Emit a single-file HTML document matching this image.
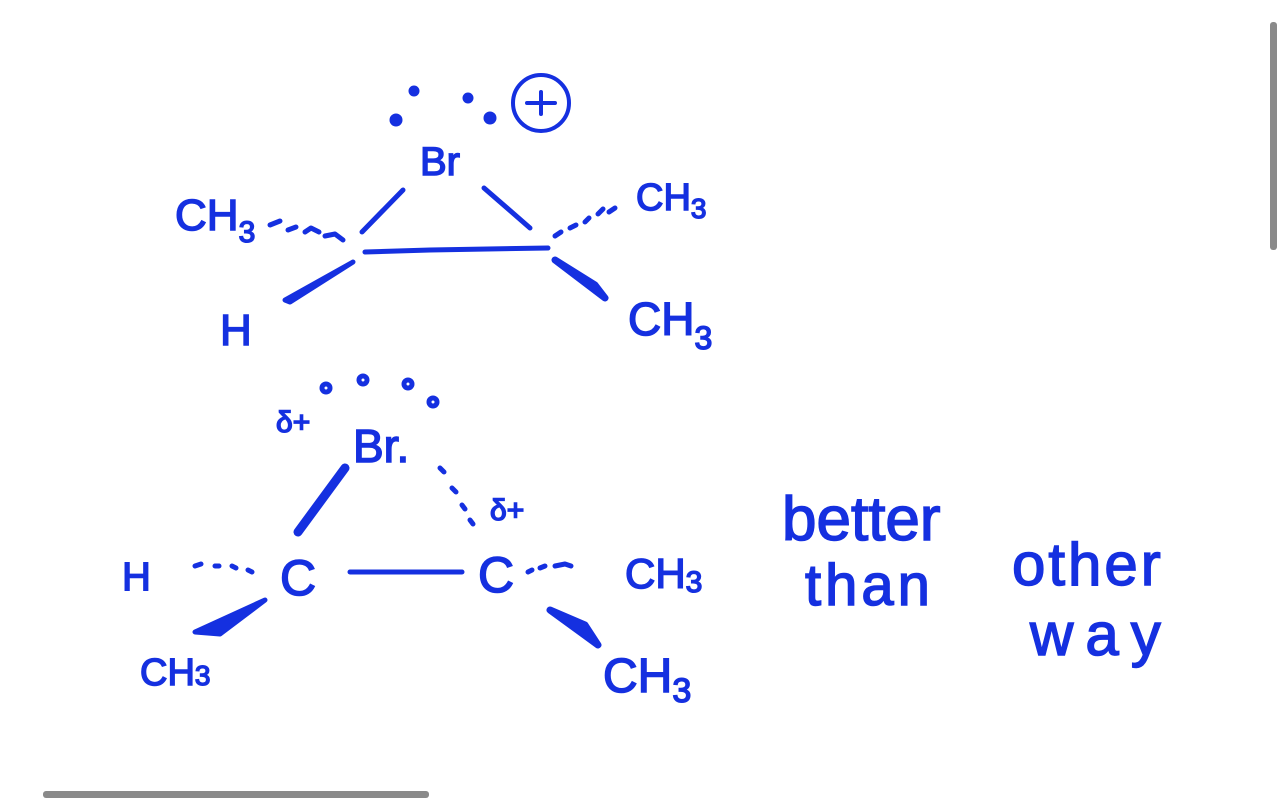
<!DOCTYPE html>
<html><head><meta charset="utf-8"><style>
html,body{margin:0;padding:0;background:#fff;width:1280px;height:800px;overflow:hidden}
svg{display:block}
text{font-family:"Liberation Sans",sans-serif;fill:#1530e0;stroke:#1530e0;stroke-width:1.5}
</style></head><body>
<svg width="1280" height="800" viewBox="0 0 1280 800">
<g stroke="#1530e0" stroke-width="5" fill="none" stroke-linecap="round" stroke-linejoin="round">
<circle cx="541" cy="103" r="28" stroke-width="4"/>
<path d="M527 103h28M541 92v22" stroke-width="4"/>
<path d="M403 190 L362 232"/>
<path d="M484 188 L530 228"/>
<path d="M365 252 L430 250 L548 248"/>
<path d="M270 225 l10-4 M288 230 l8-3 M305 232 l6-4 l8 4 M325 236 l10 -2 l8 6"/>
<path d="M555 236 l6-4 M570 228 l6-3 M585 222 l4-4 M598 214 l5-5 M609 212 l6-4"/>
<path d="M353 262 L285 300 L290 302 Z" fill="#1530e0"/>
<path d="M555 260 L605 298 L595 285 Z" fill="#1530e0" stroke-width="7"/>
<circle cx="414" cy="91" r="3" fill="#1530e0"/><circle cx="396" cy="120" r="4" fill="#1530e0"/>
<circle cx="468" cy="98" r="3" fill="#1530e0"/><circle cx="490" cy="118" r="4" fill="#1530e0"/>
<path d="M345 468 L298 532" stroke-width="9"/>
<path d="M440 468 l4 4 M452 488 l4 4 M462 505 l3 4 M470 520 l3 4"/>
<path d="M350 572 L462 572"/>
<path d="M195 566 l6-2 M215 566 l4 0 M232 566 l4 2 M248 570 l4 2"/>
<path d="M528 572 l4-2 M540 568 l5-2 M555 566 l10 -2 l6 2"/>
<path d="M265 600 L195 632 L220 634 Z" fill="#1530e0"/>
<path d="M550 610 L598 645 L585 625 Z" fill="#1530e0" stroke-width="7"/>
<circle cx="326" cy="388" r="4"/><circle cx="363" cy="380" r="4"/><circle cx="408" cy="384" r="4"/><circle cx="433" cy="402" r="4"/>
</g>
<text x="420" y="175" font-size="40">Br</text>
<text x="175" y="230" font-size="44">CH<tspan font-size="30" dy="12">3</tspan></text>
<text x="636" y="210" font-size="38">CH<tspan font-size="28" dy="8">3</tspan></text>
<text x="220" y="345" font-size="44">H</text>
<text x="628" y="335" font-size="46">CH<tspan font-size="32" dy="14">3</tspan></text>
<text x="276" y="432" font-size="30">δ+</text>
<text x="353" y="462" font-size="46">Br.</text>
<text x="490" y="520" font-size="30">δ+</text>
<text x="122" y="590" font-size="40">H</text>
<text x="280" y="595" font-size="50">C</text>
<text x="478" y="592" font-size="50">C</text>
<text x="625" y="588" font-size="42">CH<tspan font-size="30" dy="4">3</tspan></text>
<text x="140" y="685" font-size="38">CH<tspan font-size="28">3</tspan></text>
<text x="603" y="692" font-size="48">CH<tspan font-size="34" dy="10">3</tspan></text>
<text x="782" y="540" font-size="62">better</text>
<text x="805" y="605" font-size="58" letter-spacing="4">than</text>
<text x="1012" y="585" font-size="60" letter-spacing="3">other</text>
<text x="1030" y="655" font-size="60" letter-spacing="12">way</text>
<rect x="1270" y="22" width="7" height="228" rx="3" fill="#8a8a8a"/>
<rect x="43" y="791" width="386" height="7" rx="3" fill="#8a8a8a"/>
</svg>
</body></html>
